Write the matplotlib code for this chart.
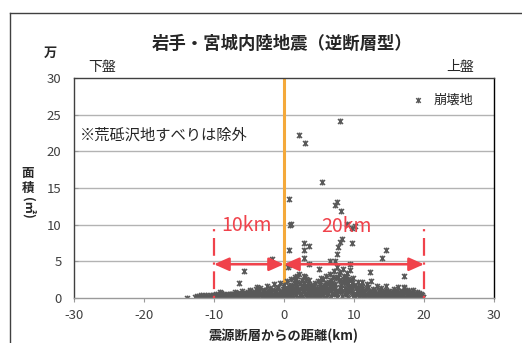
import numpy as np
import matplotlib
matplotlib.use("Agg")
import matplotlib.pyplot as plt
from matplotlib.path import Path
from matplotlib.lines import Line2D

plt.rcParams['font.family'] = ['Noto Sans CJK JP', 'DejaVu Sans']

# ---- data: distance from source fault (km) and landslide area (10^4 m2) ----
west_far_km = [-13.8, -12.7, -12.3, -12.0, -11.6, -11.3, -11.0, -10.7, -10.4, -10.1]
west_far_area = [0.05, 0.10, 0.05, 0.15, 0.08, 0.12, 0.20, 0.10, 0.18, 0.25]

west_mid_km = [-9.8, -9.5, -9.3, -9.0, -8.8, -8.5, -8.2, -8.0, -7.7, -7.4, -7.2, -7.0, -6.7,
               -6.4, -6.2, -6.0, -5.7, -5.4, -5.2, -9.6, -8.9, -8.1, -7.5, -6.9, -6.1, -5.5,
               -5.7, -6.4, -9.1]
west_mid_area = [0.10, 0.30, 0.15, 0.70, 0.20, 0.40, 0.10, 0.50, 0.25, 0.60, 0.10, 0.80, 0.35,
                 0.50, 0.20, 0.90, 0.40, 0.70, 0.15, 0.05, 0.05, 0.30, 0.05, 0.20, 0.05, 0.30,
                 3.70, 2.00, 0.80]

west_near_km = [-5.0, -4.8, -4.6, -4.4, -4.2, -4.0, -3.8, -3.6, -3.4, -3.2, -3.0, -2.8, -2.6,
                -2.4, -2.2, -2.0, -1.8, -1.6, -1.4, -1.2, -1.0, -0.8, -0.6, -0.4, -0.2,
                -4.9, -4.3, -3.7, -3.1, -2.5, -1.9, -1.3, -0.7, -0.3, -0.1, -1.7, -4.9, -3.8]
west_near_area = [0.5, 1.0, 0.2, 0.8, 0.4, 1.2, 0.1, 0.6, 1.4, 0.3, 0.9, 1.1, 0.2,
                  1.6, 0.5, 1.3, 0.8, 0.3, 1.9, 1.0, 0.6, 1.5, 2.1, 0.4, 1.2,
                  0.05, 0.1, 0.3, 0.05, 0.6, 0.1, 0.4, 0.1, 0.7, 0.05, 5.3, 1.1, 1.5]

east_near_km = [0.0, 0.2, 0.4, 0.6, 0.8, 1.0, 1.2, 1.4, 1.6, 1.8, 2.0, 2.2, 2.4, 2.6, 2.8, 3.0,
                3.2, 3.4, 3.6, 3.8, 4.0, 4.2, 4.4, 4.6, 4.8,
                0.1, 0.5, 0.9, 1.3, 1.7, 2.1, 2.5, 2.9, 3.3, 3.7, 4.1, 4.5, 4.9,
                0.3, 0.7, 1.1, 1.5, 1.9, 2.3, 2.7, 3.1, 3.5, 3.9, 4.3, 4.7,
                0.7, 0.95, 0.85, 0.7, 0.6, 0.76, 2.14, 3.05, 2.9, 3.57, 2.9, 2.9, 3.6,
                5.05, 5.43, 2.9, 1.5, 3.1, 5.3]
east_near_area = [1.8, 0.5, 2.3, 1.0, 0.3, 2.6, 1.5, 0.8, 2.0, 3.0, 1.2, 3.3, 0.6, 2.4, 1.7, 2.9,
                  0.4, 1.9, 2.5, 1.0, 1.4, 0.7, 2.0, 1.1, 2.3,
                  0.05, 0.1, 0.6, 0.1, 0.4, 0.05, 0.2, 0.9, 0.1, 0.3, 0.05, 0.5, 0.1,
                  1.2, 1.6, 0.9, 2.4, 1.5, 2.0, 0.9, 1.3, 0.8, 1.8, 1.2, 0.6,
                  13.5, 10.1, 9.9, 6.5, 4.2, 4.5, 22.2, 21.1, 7.5, 7.1, 6.5, 5.4, 4.6,
                  4.0, 15.8, 3.0, 2.9, 2.6, 2.7]

east_mid_km = [5.0, 5.2, 5.4, 5.6, 5.8, 6.0, 6.2, 6.4, 6.6, 6.8, 7.0, 7.2, 7.4, 7.6, 7.8, 8.0,
               8.2, 8.4, 8.6, 8.8, 9.0, 9.2, 9.4, 9.6, 9.8,
               5.1, 5.5, 5.9, 6.3, 6.7, 7.1, 7.5, 7.9, 8.3, 8.7, 9.1, 9.5, 9.9,
               5.3, 5.7, 6.1, 6.5, 6.9, 7.3, 7.7, 8.1, 8.5, 8.9, 9.3, 9.7,
               7.3, 7.5, 8.1, 8.04, 9.0, 9.76, 10.2, 8.24, 8.0, 9.76, 7.76, 7.5, 7.3, 6.6, 9.4]
east_mid_area = [1.2, 2.0, 0.6, 2.6, 1.5, 3.0, 0.9, 2.2, 3.3, 1.4, 2.8, 3.7, 1.0, 4.2, 2.4, 3.6,
                 1.8, 3.9, 2.6, 1.2, 3.4, 2.0, 3.8, 1.5, 2.7,
                 0.1, 0.4, 0.05, 0.7, 0.2, 0.5, 0.1, 1.0, 0.3, 0.6, 0.05, 0.9, 0.2,
                 1.0, 1.8, 1.2, 1.6, 2.1, 1.9, 2.9, 1.3, 2.2, 2.9, 1.1, 2.1,
                 12.7, 13.05, 11.9, 24.2, 10.1, 9.6, 9.8, 8.1, 7.7, 7.5, 6.9, 6.0, 5.1, 5.0, 4.6]

east_far_km = [10.0, 10.3, 10.6, 10.9, 11.2, 11.5, 11.8, 12.1, 12.4, 12.7, 13.0, 13.3, 13.6,
               13.9, 14.2, 14.5, 14.8,
               10.15, 10.75, 11.35, 11.95, 12.55, 13.15, 13.75, 14.35, 14.95,
               12.3, 14.6, 14.0, 11.2,
               15.1, 15.4, 15.7, 16.0, 16.3, 16.6, 16.9, 17.2, 17.5, 17.8, 18.1, 18.4, 18.7,
               19.0, 19.3, 19.6, 19.8,
               15.25, 15.85, 16.45, 17.05, 17.65, 18.25, 18.85, 19.45,
               17.2, 17.2]
east_far_area = [1.8, 0.6, 2.2, 1.0, 1.5, 0.3, 1.9, 0.8, 2.3, 1.2, 0.5, 1.6, 0.9,
                 1.4, 0.2, 1.7, 1.0,
                 0.1, 0.3, 0.05, 0.4, 0.1, 0.3, 0.05, 0.6, 0.1,
                 3.5, 6.5, 5.4, 2.2,
                 0.8, 0.3, 1.2, 0.6, 1.5, 0.2, 1.0, 1.4, 0.4, 0.9, 0.2, 1.1, 0.6,
                 0.8, 0.3, 0.5, 0.1,
                 0.05, 0.2, 0.05, 0.3, 0.05, 0.4, 0.05, 0.2,
                 3.0, 1.5]

# small slides packed along the whole band
band_km = [-12.5, -12.15, -11.8, -11.45, -11.1, -10.75, -10.4, -10.05, -9.7, -9.35, -9.0,
           -8.65, -8.3, -7.95, -7.6, -7.25, -6.9, -6.55, -6.2, -5.85, -5.5, -5.15, -4.8,
           -4.45, -4.1, -3.75, -3.4, -3.05, -2.7, -2.35, -2.0, -1.65, -1.3, -0.95, -0.6,
           -0.25, 0.1, 0.45, 0.8, 1.15, 1.5, 1.85, 2.2, 2.55, 2.9, 3.25, 3.6, 3.95, 4.3,
           4.65, 5.0, 5.35, 5.7, 6.05, 6.4, 6.75, 7.1, 7.45, 7.8, 8.15, 8.5, 8.85, 9.2,
           9.55, 9.9, 10.25, 10.6, 10.95, 11.3, 11.65, 12.0, 12.35, 12.7, 13.05, 13.4,
           13.75, 14.1, 14.45, 14.8, 15.15, 15.5, 15.85, 16.2, 16.55, 16.9, 17.25, 17.6,
           17.95, 18.3, 18.65, 19.0, 19.35, 19.7]
band_area = [0.3, 0.2, 0.35, 0.25, 0.4, 0.3, 0.45, 0.35, 0.5, 0.4, 0.3,
             0.55, 0.45, 0.35, 0.6, 0.45, 0.55, 0.7, 0.5, 0.65, 0.55, 0.8, 0.6,
             0.5, 0.75, 0.9, 0.7, 0.6, 0.85, 1.0, 0.75, 1.1, 0.9, 1.2, 1.0,
             0.85, 1.3, 1.0, 1.5, 1.8, 1.3, 2.2, 1.1, 1.6, 2.0, 1.5, 1.2, 0.9, 1.7,
             1.4, 0.9, 1.5, 1.1, 2.0, 1.3, 2.5, 1.6, 2.7, 3.3, 2.3, 3.0, 2.0, 2.6,
             2.4, 1.6, 1.3, 1.5, 1.7, 0.9, 1.2, 1.5, 1.0, 0.7, 1.0, 0.6,
             1.1, 0.8, 1.0, 0.6, 0.4, 0.9, 0.7, 1.0, 0.8, 0.5, 0.9, 1.1,
             0.6, 0.8, 0.4, 0.5, 0.7, 0.4]

east_fill_km = [0.25, 0.6, 0.95, 1.3, 1.65, 2.0, 2.35, 2.7, 3.05, 3.4, 3.75, 4.1, 4.45, 4.8,
                5.15, 5.5, 5.85, 6.2, 6.55, 6.9, 7.25, 7.6, 7.95, 8.3, 8.65, 9.0, 9.35, 9.7,
                10.05, 10.4, 10.75, 11.1, 11.45, 11.8, 12.15, 12.5, 12.85, 13.2, 13.55,
                13.9, 14.25, 14.6, 14.95, 15.3, 15.65, 16.0, 16.35, 16.7, 17.05, 17.4,
                17.75, 18.1, 18.45, 18.8, 19.15, 19.5, 19.85]
east_fill_area = [0.7, 0.4, 1.1, 0.8, 0.5, 0.9, 0.4, 1.3, 0.7, 1.0, 0.5, 0.8, 0.3, 0.9,
                  0.6, 1.2, 0.8, 0.4, 1.1, 0.7, 1.3, 0.6, 1.5, 0.9, 1.4, 0.7, 1.6, 0.8,
                  0.6, 1.0, 0.7, 0.4, 0.8, 0.5, 0.3, 0.6, 0.4, 0.7, 0.3,
                  0.5, 0.4, 0.3, 0.5, 0.2, 0.4, 0.2, 0.5, 0.3, 0.6, 0.2,
                  0.4, 0.5, 0.2, 0.3, 0.2, 0.3, 0.2]

west_fill_km = [-12.1, -11.4, -10.9, -10.2, -9.2, -8.4, -7.8, -6.5, -5.9, -4.6, -3.9, -2.9,
                -2.1, -1.1, -0.45]
west_fill_area = [0.0, 0.05, 0.02, 0.05, 0.02, 0.1, 0.02, 0.05, 0.1, 0.02, 0.08, 0.02,
                  0.1, 0.05, 0.3]

distance_km = (west_far_km + west_mid_km + west_near_km + east_near_km + east_mid_km
               + east_far_km + band_km + east_fill_km + west_fill_km)
area = (west_far_area + west_mid_area + west_near_area + east_near_area + east_mid_area
        + east_far_area + band_area + east_fill_area + west_fill_area)

x_ticks = [-30, -20, -10, 0, 10, 20, 30]
y_ticks = [0, 5, 10, 15, 20, 25, 30]
zone_hanging_km = 20     # 上盤 side reach
zone_foot_km = -10       # 下盤 side reach

# asterisk-like cross marker
star_x = Path([(-1, -1), (1, 1), (-1, 1), (1, -1), (0, -1.2), (0, 1.2)],
              [Path.MOVETO, Path.LINETO, Path.MOVETO, Path.LINETO, Path.MOVETO, Path.LINETO])

W, H = 522, 343
fig = plt.figure(figsize=(W / 100, H / 100), dpi=100)


def fx(px):
    return px / W


def fy(py):
    return 1 - py / H


ax = fig.add_axes([fx(74), fy(298), fx(494) - fx(74), fy(78) - fy(298)])
ax.set_xlim(-30, 30)
ax.set_ylim(0, 30)
ax.set_xticks(x_ticks)
ax.set_yticks(y_ticks)
ax.set_xticklabels([str(t) for t in x_ticks])
ax.set_yticklabels([str(t) for t in y_ticks])

for yv in y_ticks[1:-1]:
    ax.axhline(yv, color='#B3B3B3', lw=1.0, zorder=0)

ax.spines['left'].set_color('#404040')
ax.spines['right'].set_color('#000000')
ax.spines['top'].set_color('#404040')
ax.spines['bottom'].set_color('#9A9A9A')
for s in ax.spines.values():
    s.set_linewidth(1.0)

ax.tick_params(axis='x', direction='out', length=3, width=0.8, color='#9A9A9A',
               labelsize=9.5, labelcolor='#404040', pad=5)
ax.tick_params(axis='y', direction='in', length=3, width=0.8, color='#9A9A9A',
               labelsize=9.5, labelcolor='#404040', pad=9)

# fault trace
ax.axvline(0, color='#F4A93B', lw=2.2, zorder=1)

ax.plot(distance_km, area, linestyle='none', marker=star_x, markersize=4.3,
        markeredgewidth=1.1, color='#595959', zorder=2)

red = '#F0424B'
for xv in (zone_foot_km, zone_hanging_km):
    ax.plot([xv, xv], [0, 9.6], color=red, lw=1.6, dashes=(1, 3, 8, 3), zorder=4)

arrow_y = 4.6
for x0, x1 in ((zone_foot_km, 0), (0, zone_hanging_km)):
    ax.annotate('', xy=(x0, arrow_y), xytext=(x1, arrow_y),
                arrowprops=dict(arrowstyle='<|-|>,head_length=0.45,head_width=0.2',
                                color=red, lw=1.8, shrinkA=0, shrinkB=0,
                                mutation_scale=20), zorder=5)

ax.text(-5.3, 9.9, f'{abs(zone_foot_km)}km', color=red, fontsize=14,
        ha='center', va='center', zorder=5)
ax.text(8.9, 9.8, f'{zone_hanging_km}km', color=red, fontsize=14,
        ha='center', va='center', zorder=5)

ax.text(-29.2, 22.2, '※荒砥沢地すべりは除外', fontsize=11, ha='left', va='center',
        color='#262626')

# legend
ax.plot([0.819], [0.90], transform=ax.transAxes, linestyle='none', marker=star_x,
        markersize=4, markeredgewidth=1.0, color='#595959', clip_on=False)
ax.text(0.855, 0.90, '崩壊地', transform=ax.transAxes, fontsize=9.5, ha='left',
        va='center', color='#262626')

# figure texts
fig.text(fx(282), fy(44), '岩手・宮城内陸地震（逆断層型）', fontsize=12.5,
         fontweight='bold', ha='center', va='center', color='#262626')
fig.text(fx(50), fy(53), '万', fontsize=9.5, fontweight='bold', ha='center',
         va='center', color='#262626')
fig.text(fx(102), fy(67), '下盤', fontsize=10, ha='center', va='center', color='#262626')
fig.text(fx(460), fy(67), '上盤', fontsize=10, ha='center', va='center', color='#262626')
fig.text(fx(28), fy(174), '面', fontsize=9, fontweight='bold', ha='center', va='center',
         color='#262626')
fig.text(fx(28), fy(188), '積', fontsize=9, fontweight='bold', ha='center', va='center',
         color='#262626')
fig.text(fx(28), fy(208), '(㎡)', fontsize=9, fontweight='bold', ha='center', va='center',
         rotation=-90, color='#262626')
fig.text(fx(284), fy(336), '震源断層からの距離(km)', fontsize=9.5, fontweight='bold',
         ha='center', va='center', color='#262626')

# chart frame
fig.add_artist(Line2D([fx(9.5), fx(9.5)], [fy(12.7), 0], color='#404040', lw=1.0))
fig.add_artist(Line2D([fx(9.5), 1], [fy(12.7), fy(12.7)], color='#404040', lw=1.0))

fig.savefig('out.png', dpi=100)
